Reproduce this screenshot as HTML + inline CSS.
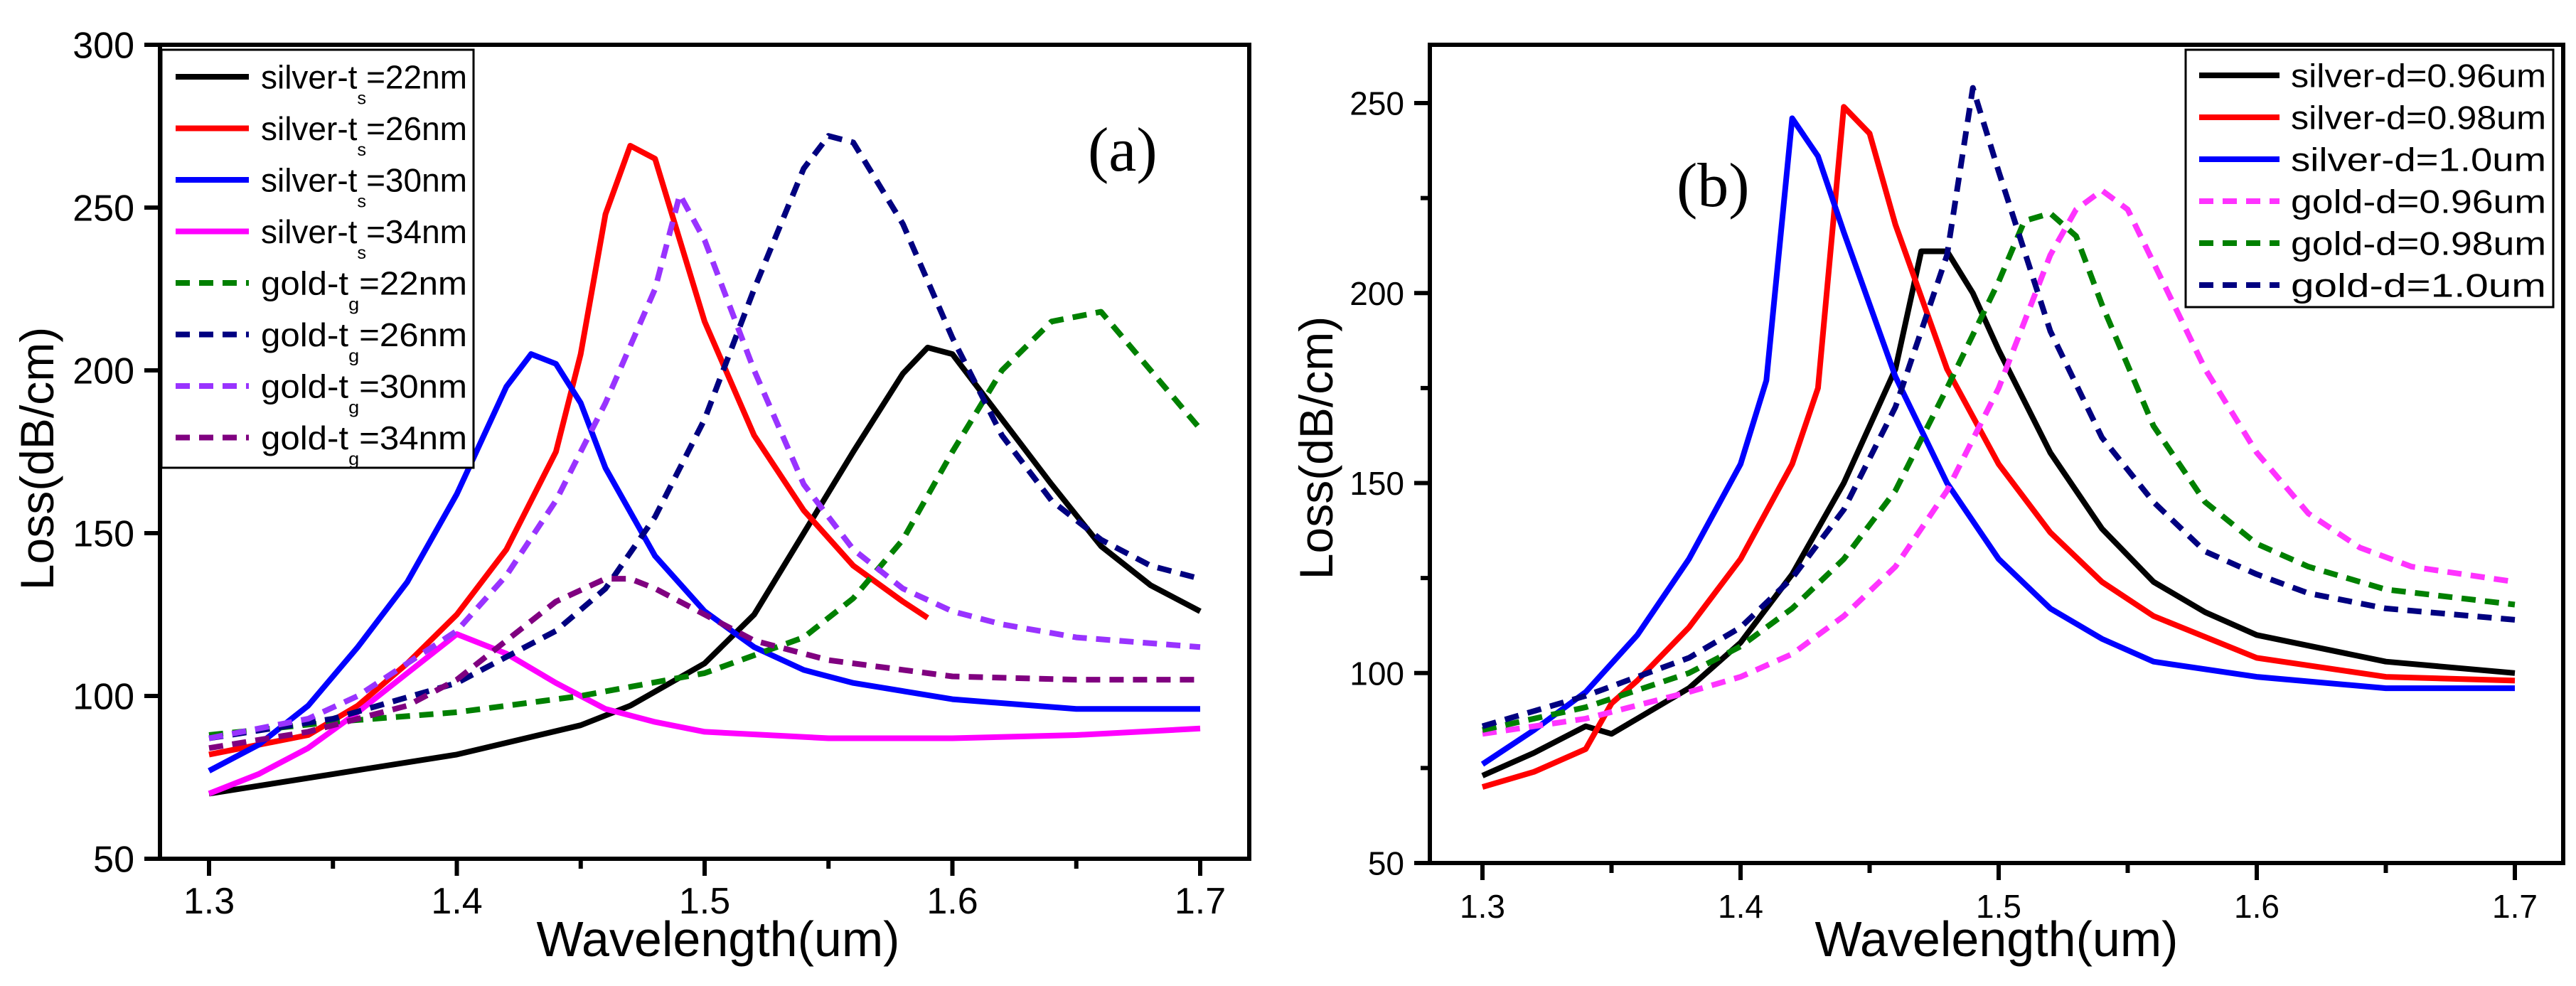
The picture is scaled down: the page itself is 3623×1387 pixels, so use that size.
<!DOCTYPE html>
<html><head><meta charset="utf-8"><style>
html,body{margin:0;padding:0;background:#fff}
svg{display:block}
</style></head><body>
<svg id="fig" xmlns="http://www.w3.org/2000/svg" width="3623" height="1387" viewBox="0 0 3623 1387" font-family="Liberation Sans, sans-serif"></svg>
<script>
// ---------- Panel (a) data ----------
const aNames = ["silver-t|s|=22nm","silver-t|s|=26nm","silver-t|s|=30nm","silver-t|s|=34nm","gold-t|g|=22nm","gold-t|g|=26nm","gold-t|g|=30nm","gold-t|g|=34nm"];
const aColors = ["#000000","#ff0000","#0000ff","#ff00ff","#008000","#000080","#9933ff","#800080"];
const aDashed = [false,false,false,false,true,true,true,true];
const aX0 = [1.3,1.35,1.4,1.45,1.47,1.5,1.52,1.54,1.56,1.58,1.59,1.6,1.62,1.64,1.66,1.68,1.7];
const aY0 = [70,76,82,91,97,110,125,150,175,199,207,205,185,165,146,134,126];
const aX1 = [1.3,1.32,1.34,1.36,1.38,1.4,1.42,1.44,1.45,1.46,1.47,1.48,1.49,1.5,1.52,1.54,1.56,1.58,1.59];
const aY1 = [82,85,88,97,110,125,145,175,205,248,269,265,240,215,180,157,140,129,124];
const aX2 = [1.3,1.32,1.34,1.36,1.38,1.4,1.42,1.43,1.44,1.45,1.46,1.48,1.5,1.52,1.54,1.56,1.6,1.65,1.7];
const aY2 = [77,85,97,115,135,162,195,205,202,190,170,143,126,115,108,104,99,96,96];
const aX3 = [1.3,1.32,1.34,1.36,1.38,1.4,1.42,1.44,1.46,1.48,1.5,1.55,1.6,1.65,1.7];
const aY3 = [70,76,84,95,107,119,113,104,96,92,89,87,87,88,90];
const aX4 = [1.3,1.35,1.4,1.45,1.5,1.54,1.56,1.58,1.6,1.62,1.64,1.66,1.68,1.7];
const aY4 = [88,92,95,100,107,118,130,148,175,200,215,218,200,182];
const aX5 = [1.3,1.35,1.4,1.44,1.46,1.48,1.5,1.52,1.54,1.55,1.56,1.58,1.6,1.62,1.64,1.66,1.68,1.7];
const aY5 = [87,93,104,120,133,155,185,225,262,272,270,245,210,180,160,148,140,136];
const aX6 = [1.3,1.34,1.36,1.38,1.4,1.42,1.44,1.46,1.48,1.49,1.5,1.52,1.54,1.56,1.58,1.6,1.62,1.65,1.7];
const aY6 = [87,93,100,110,120,137,160,190,225,254,240,200,165,145,133,126,122,118,115];
const aX7 = [1.3,1.34,1.38,1.4,1.42,1.44,1.46,1.47,1.48,1.5,1.52,1.55,1.6,1.65,1.7];
const aY7 = [84,89,97,105,117,129,136,136,133,125,117,111,106,105,105];
const aXTicks = [1.3,1.4,1.5,1.6,1.7];
const aYTicks = [50,100,150,200,250,300];

// ---------- Panel (b) data ----------
const bNames = ["silver-d=0.96um","silver-d=0.98um","silver-d=1.0um","gold-d=0.96um","gold-d=0.98um","gold-d=1.0um"];
const bColors = ["#000000","#ff0000","#0000ff","#ff33ff","#008000","#000080"];
const bDashed = [false,false,false,true,true,true];
const bX0 = [1.3,1.32,1.34,1.35,1.36,1.38,1.4,1.42,1.44,1.46,1.47,1.48,1.49,1.5,1.52,1.54,1.56,1.58,1.6,1.65,1.7];
const bY0 = [73,79,86,84,88,96,108,126,150,180,211,211,200,185,158,138,124,116,110,103,100];
const bX1 = [1.3,1.32,1.34,1.35,1.36,1.38,1.4,1.42,1.43,1.44,1.45,1.46,1.48,1.5,1.52,1.54,1.56,1.6,1.65,1.7];
const bY1 = [70,74,80,92,98,112,130,155,175,249,242,218,180,155,137,124,115,104,99,98];
const bX2 = [1.3,1.32,1.34,1.36,1.38,1.4,1.41,1.42,1.43,1.44,1.46,1.48,1.5,1.52,1.54,1.56,1.6,1.65,1.7];
const bY2 = [76,85,95,110,130,155,177,246,236,216,178,150,130,117,109,103,99,96,96];
const bX3 = [1.3,1.34,1.38,1.4,1.42,1.44,1.46,1.48,1.5,1.52,1.53,1.54,1.55,1.56,1.58,1.6,1.62,1.64,1.66,1.7];
const bY3 = [84,88,95,99,105,115,128,148,175,210,222,227,222,208,180,158,142,133,128,124];
const bX4 = [1.3,1.34,1.38,1.4,1.42,1.44,1.46,1.48,1.5,1.51,1.52,1.53,1.54,1.56,1.58,1.6,1.62,1.65,1.7];
const bY4 = [85,91,100,107,117,130,148,175,203,219,221,215,197,165,145,134,128,122,118];
const bX5 = [1.3,1.34,1.38,1.4,1.42,1.44,1.46,1.48,1.49,1.5,1.52,1.54,1.56,1.58,1.6,1.62,1.65,1.7];
const bY5 = [86,94,104,112,125,143,170,210,254,232,190,162,145,132,126,121,117,114];
const bXTicks = [1.3,1.4,1.5,1.6,1.7];
const bYTicks = [50,100,150,200,250];

const NS = "http://www.w3.org/2000/svg";
const svg = document.getElementById('fig');
function mk(tag, attrs, parent){
  const e = document.createElementNS(NS, tag);
  for (const k in attrs) e.setAttribute(k, attrs[k]);
  (parent||svg).appendChild(e);
  return e;
}

function panel(cfg){
  const g = mk('g', {});
  
  
  const sx = v => cfg.px0 + (v - 1.3) / 0.4 * (cfg.px1 - cfg.px0);
  const sy = v => cfg.py50 - (v - 50) / 50 * cfg.per50;
  // frame
  const fr = mk('rect', {x:cfg.L, y:cfg.T, width:cfg.R-cfg.L, height:cfg.B-cfg.T, fill:'none', stroke:'#000', 'stroke-width':6}, g);
  
  
  // x ticks
  for (let v = 1.3; v <= 1.7001; v += 0.05){
    const major = Math.abs(Math.round(v*10) - v*10) < 1e-6;
    const t = mk('line', {x1:sx(v), x2:sx(v), y1:cfg.B, y2:cfg.B + (major?24:14), stroke:'#000', 'stroke-width':6}, g);
    
    
  }
  cfg.xTicks.forEach(v => {
    const t = mk('text', {x:sx(v), y:cfg.B + 77, 'font-size':cfg.tickFs, 'text-anchor':'middle', fill:'#000'}, g);
    t.textContent = v.toFixed(1);
    
    
  });
  // y ticks
  cfg.yTicks.forEach(v => {
    const t = mk('line', {x1:cfg.L-22, x2:cfg.L, y1:sy(v), y2:sy(v), stroke:'#000', 'stroke-width':6}, g);
    
    
    const l = mk('text', {x:cfg.L-36, y:sy(v) + cfg.tickFs*0.36, 'font-size':cfg.tickFs, 'text-anchor':'end', fill:'#000'}, g);
    l.textContent = v;
    
    
  });
  if (cfg.minorY){
    for (let v = 75; v < cfg.yTicks[cfg.yTicks.length-1]; v += 50){
      const t = mk('line', {x1:cfg.L-13, x2:cfg.L, y1:sy(v), y2:sy(v), stroke:'#000', 'stroke-width':6}, g);
      
      
    }
  }
  // axis titles
  const xt = mk('text', {x:cfg.xTitleX, y:1345, 'font-size':70, 'text-anchor':'middle', fill:'#000'}, g);
  xt.textContent = 'Wavelength(um)';
  
  
  const yt = mk('text', {x:0, y:0, 'font-size':66, 'text-anchor':'middle', fill:'#000', transform:`translate(${cfg.yTitleX},${cfg.yTitleY}) rotate(-90)`}, g);
  yt.textContent = 'Loss(dB/cm)';
  
  
  // series
  cfg.series.forEach((s, i) => {
    const d = s.x.map((xv, k) => (k ? 'L' : 'M') + sx(xv).toFixed(1) + ' ' + sy(s.y[k]).toFixed(1)).join(' ');
    const p = mk('path', {d:d, fill:'none', stroke:cfg.colors[i], 'stroke-width':8, 'stroke-linejoin':'round'}, g);
    if (cfg.dashed[i]) p.setAttribute('stroke-dasharray', '20 13');
    
    
  });
  // legend
  const lg = mk('g', {}, g);
  
  
  mk('rect', {x:cfg.lg.x, y:cfg.lg.y, width:cfg.lg.w, height:cfg.lg.h, fill:'#fff', stroke:'#000', 'stroke-width':3}, lg);
  cfg.names.forEach((n, i) => {
    const yy = cfg.lg.y0 + i * cfg.lg.dy;
    const e = mk('g', {}, lg);
    
    
    const ln = mk('line', {x1:cfg.lg.s0, x2:cfg.lg.s1, y1:yy, y2:yy, stroke:cfg.colors[i], 'stroke-width':8}, e);
    if (cfg.dashed[i]) ln.setAttribute('stroke-dasharray', '20 13');
    const parts = n.split('|');
    const t = mk('text', {x:cfg.lg.tx, y:yy + cfg.lg.fs*0.36, 'font-size':cfg.lg.fs, fill:'#000', 'font-family':'Liberation Sans Narrow, Liberation Sans, sans-serif'}, e);
    if (parts.length === 3){
      const a = mk('tspan', {}, t); a.textContent = parts[0];
      const b = mk('tspan', {dy:22, 'font-size':cfg.lg.fs*0.55}, t); b.textContent = parts[1];
      const c = mk('tspan', {dy:-22}, t); c.textContent = parts[2];
    } else t.textContent = n;
    t.setAttribute('textLength', cfg.lg.tw);
    t.setAttribute('lengthAdjust', 'spacingAndGlyphs');
  });
  const pl = mk('text', {x:cfg.pl.x, y:cfg.pl.y, 'font-size':88, fill:'#000', 'font-family':'Liberation Serif, serif'}, g);
  pl.textContent = cfg.pl.t;
  
  
}

panel({
  id:'a', L:225, R:1757, T:63, B:1208, px0:294, px1:1688, py50:1208, per50:229, tickFs:52,
  xTicks:aXTicks, yTicks:aYTicks, minorY:false, xTitleX:1010, yTitleX:75, yTitleY:645,
  colors:aColors, dashed:aDashed, names:aNames,
  plain:["silver-22","silver-26","silver-30","silver-34","gold-22","gold-26","gold-30","gold-34"],
  series:[{x:aX0,y:aY0},{x:aX1,y:aY1},{x:aX2,y:aY2},{x:aX3,y:aY3},{x:aX4,y:aY4},{x:aX5,y:aY5},{x:aX6,y:aY6},{x:aX7,y:aY7}],
  lg:{x:227, y:70, w:439, h:588, y0:108, dy:72.5, s0:247, s1:350, tx:367, fs:46, tw:290},
  pl:{x:1530, y:240, t:'(a)'}
});
panel({
  id:'b', L:2011, R:3605, T:63, B:1214, px0:2085, px1:3537, py50:1214, per50:267.25, tickFs:46,
  xTicks:bXTicks, yTicks:bYTicks, minorY:true, xTitleX:2808, yTitleX:1874, yTitleY:630,
  colors:bColors, dashed:bDashed, names:bNames,
  plain:["silver-0.96","silver-0.98","silver-1.0","gold-0.96","gold-0.98","gold-1.0"],
  series:[{x:bX0,y:bY0},{x:bX1,y:bY1},{x:bX2,y:bY2},{x:bX3,y:bY3},{x:bX4,y:bY4},{x:bX5,y:bY5}],
  lg:{x:3074, y:70, w:517, h:362, y0:106, dy:59, s0:3093, s1:3206, tx:3222, fs:46, tw:359},
  pl:{x:2358, y:290, t:'(b)'}
});
</script>
</body></html>
